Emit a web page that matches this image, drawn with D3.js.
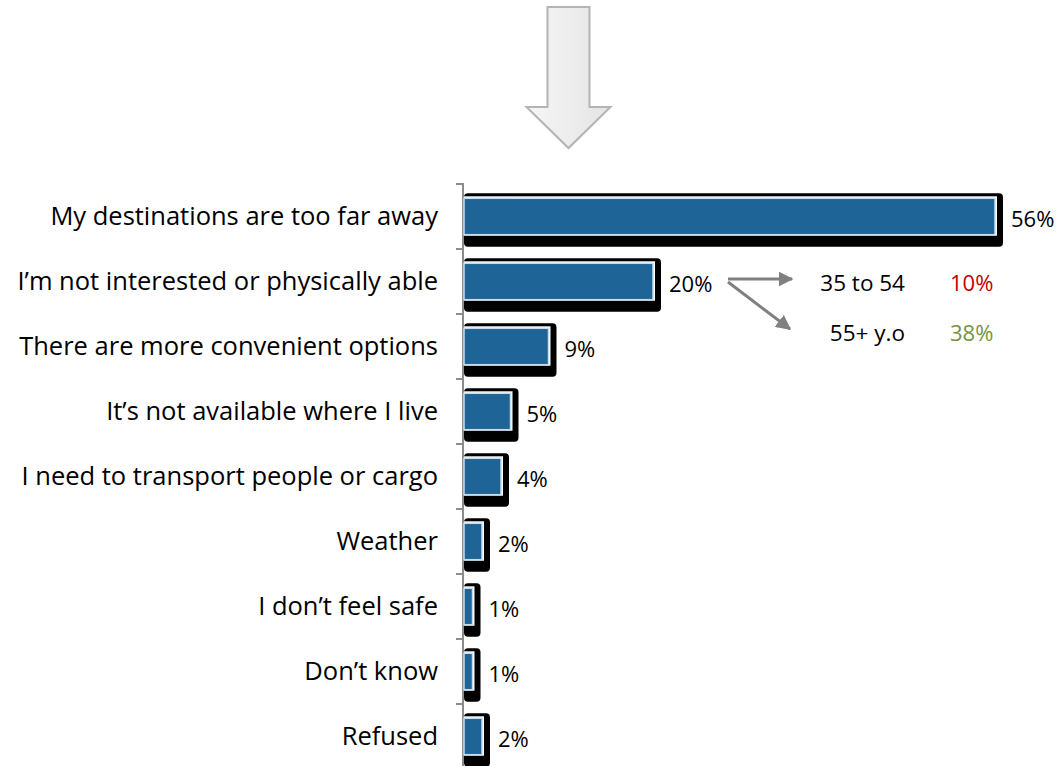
<!DOCTYPE html>
<html><head><meta charset="utf-8">
<script src="https://cdn.jsdelivr.net/npm/d3@7"></script>
<style>body{margin:0;background:#fff;} svg{display:block;font-family:"Open Sans", Lato, sans-serif;}</style>
</head><body>
<svg id="c" width="1060" height="766"></svg>
<script>
const categories = ["My destinations are too far away","I\u2019m not interested or physically able","There are more convenient options","It\u2019s not available where I live","I need to transport people or cargo","Weather","I don\u2019t feel safe","Don\u2019t know","Refused"];
const values = [56,20,9,5,4,2,1,1,2];
const subGroups = ["35 to 54","55+ y.o"];
const subValues = [10,38];
const subColors = ["#c00000","#77933c"];

const svg = d3.select("#c");
const x = d3.scaleLinear().domain([0,56]).range([463,995]);
const y = d3.scaleBand().domain(categories).range([184,769]).paddingInner(0.44).paddingOuter(0.22);

const defs = svg.append("defs");
const g = defs.append("linearGradient").attr("id","ag").attr("x1",0).attr("x2",1).attr("y1",0).attr("y2",0);
g.append("stop").attr("offset","0%").attr("stop-color","#f6f6f6");
g.append("stop").attr("offset","100%").attr("stop-color","#e4e4e4");

// block arrow at top
const cx = 568.5;
svg.append("path")
  .attr("d", `M${cx-21},7 L${cx+21},7 L${cx+21},107 L${cx+42},107 L${cx},148 L${cx-42},107 L${cx-21},107 Z`)
  .attr("fill","url(#ag)").attr("stroke","#b4b4b4").attr("stroke-width",2).attr("stroke-linejoin","miter");

// axis
const bounds = d3.range(categories.length+1).map(i => 184 + i*65);
svg.append("line").attr("x1",463).attr("x2",463).attr("y1",183).attr("y2",766).attr("stroke","#8c8c8c").attr("stroke-width",2);
svg.selectAll(".tk").data(bounds).join("line").attr("x1",456).attr("x2",463).attr("y1",d=>d).attr("y2",d=>d).attr("stroke","#8c8c8c").attr("stroke-width",2);

// bars: shadow
const bars = svg.selectAll(".bar").data(categories).join("g");
bars.append("rect")
  .attr("x", x(0)+1).attr("y", d => y(d)-5)
  .attr("width", (d,i) => x(values[i]) - x(0) + 7)
  .attr("height", y.bandwidth()+17)
  .attr("rx",4).attr("fill","#000");
bars.append("rect")
  .attr("x", x(0)+1).attr("y", d => y(d)-2)
  .attr("width", (d,i) => x(values[i]) - x(0) + 1)
  .attr("height", y.bandwidth()+3)
  .attr("fill","#fff");
bars.append("rect")
  .attr("x", x(0)+1).attr("y", d => y(d))
  .attr("width", (d,i) => Math.max(1, x(values[i]) - x(0) - 1))
  .attr("height", y.bandwidth())
  .attr("fill","#1f6496").attr("stroke","#c9dcea").attr("stroke-width",1.5);

// category labels
svg.selectAll(".cl").data(categories).join("text")
  .attr("x",438).attr("y", d => y(d)+y.bandwidth()/2+8)
  .attr("text-anchor","end")
  .attr("font-size",25.5).attr("fill","#000").text(d=>d);

// value labels
svg.selectAll(".vl").data(categories).join("text")
  .attr("x",(d,i)=>x(values[i])+16).attr("y", d => y(d)+y.bandwidth()/2+10)
  .attr("font-size",22).attr("fill","#000").text((d,i)=>values[i]+"%");

// sub-annotation arrows
defs.append("marker").attr("id","ah").attr("viewBox","0 0 10 10").attr("refX",9).attr("refY",5)
  .attr("markerWidth",5).attr("markerHeight",5).attr("orient","auto")
  .append("path").attr("d","M0,0 L10,5 L0,10 Z").attr("fill","#808080");
svg.append("line").attr("x1",728).attr("y1",279).attr("x2",792).attr("y2",279)
  .attr("stroke","#808080").attr("stroke-width",3).attr("marker-end","url(#ah)");
svg.append("line").attr("x1",728).attr("y1",282).attr("x2",790).attr("y2",329)
  .attr("stroke","#808080").attr("stroke-width",3).attr("marker-end","url(#ah)");

const subY = [291, 341];
svg.selectAll(".sg").data(subGroups).join("text")
  .attr("x",905).attr("y",(d,i)=>subY[i]).attr("text-anchor","end")
  .attr("font-size",22.5).text(d=>d);
svg.selectAll(".sv").data(subValues).join("text")
  .attr("x",950).attr("y",(d,i)=>subY[i])
  .attr("font-size",22).attr("fill",(d,i)=>subColors[i]).text(d=>d+"%");
</script>
</body></html>
